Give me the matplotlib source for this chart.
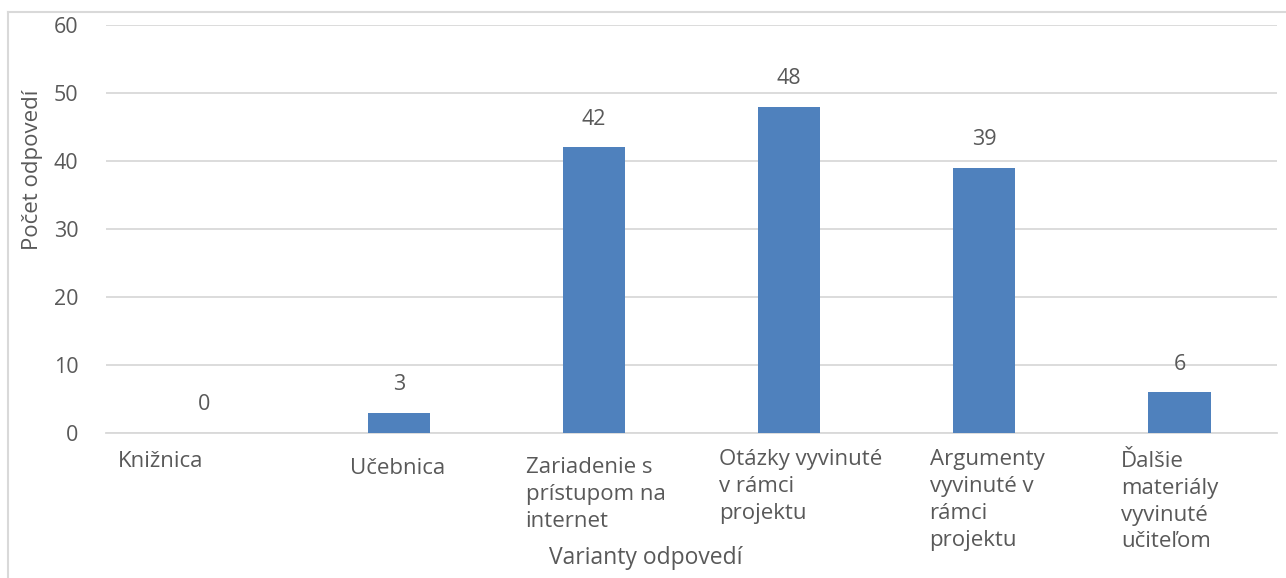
import matplotlib
matplotlib.use("Agg")
import matplotlib.pyplot as plt
from matplotlib.lines import Line2D

categories = ["Knižnica", "Učebnica", "Zariadenie s\nprístupom na\ninternet",
              "Otázky vyvinuté\nv rámci\nprojektu", "Argumenty\nvyvinuté v\nrámci\nprojektu",
              "Ďalšie\nmateriály\nvyvinuté\nučiteľom"]
values = [0, 3, 42, 48, 39, 6]
y_ticks = [0, 10, 20, 30, 40, 50, 60]

# horizontal shift of each wrapped label from the category centre (in slot units)
label_dx = [-0.44, -0.25, -0.35, -0.36, -0.28, -0.30]
label_dy = [-0.7, -1.7, -1.6, -0.4, -0.4, -0.6]

plt.rcParams['font.family'] = ['Open Sans', 'DejaVu Sans']
text_col = '#595959'
bar_col = '#4F81BD'

fig = plt.figure(figsize=(12.86, 5.78), dpi=100)
ax = fig.add_axes([106 / 1286, 1 - 433 / 578, (1277 - 106) / 1286, (433 - 25) / 578])

x = list(range(len(categories)))
ax.bar(x, values, width=0.32, color=bar_col, zorder=3)
for xi, v in zip(x, values):
    ax.text(xi, v + 2.6, str(v), ha='center', va='bottom', fontsize=15.5, color=text_col)

ax.set_xlim(-0.5, len(categories) - 0.5)
ax.set_ylim(0, 60)
ax.set_yticks(y_ticks)
ax.tick_params(axis='y', length=0, pad=20, labelsize=15.5, labelcolor=text_col)
ax.set_xticks([])
ax.grid(axis='y', color='#D9D9D9', linewidth=1.3, zorder=0)
for s in ['top', 'right', 'left']:
    ax.spines[s].set_visible(False)
ax.spines['bottom'].set_color('#D9D9D9')
ax.spines['bottom'].set_linewidth(1.3)

for xi, lab, dx, dy in zip(x, categories, label_dx, label_dy):
    ax.text(xi + dx, -2.0 + dy, lab, ha='left', va='top', fontsize=16,
            color=text_col, linespacing=1.37)

fig.text(33 / 1286, 1 - 170 / 578, "Počet odpovedí", rotation=90, ha='center', va='center',
         fontsize=16, color=text_col)
fig.text(646 / 1286, 1 - 558 / 578, "Varianty odpovedí", ha='center', va='center',
         fontsize=16.5, color=text_col)

# chart frame (left and top edges visible)
fig.add_artist(Line2D([8 / 1286, 8 / 1286], [0, 1 - 12 / 578], color='#D9D9D9', lw=1.5,
                      transform=fig.transFigure))
fig.add_artist(Line2D([8 / 1286, 1], [1 - 12 / 578, 1 - 12 / 578], color='#D9D9D9', lw=1.5,
                      transform=fig.transFigure))

fig.savefig("out.png", dpi=100)
